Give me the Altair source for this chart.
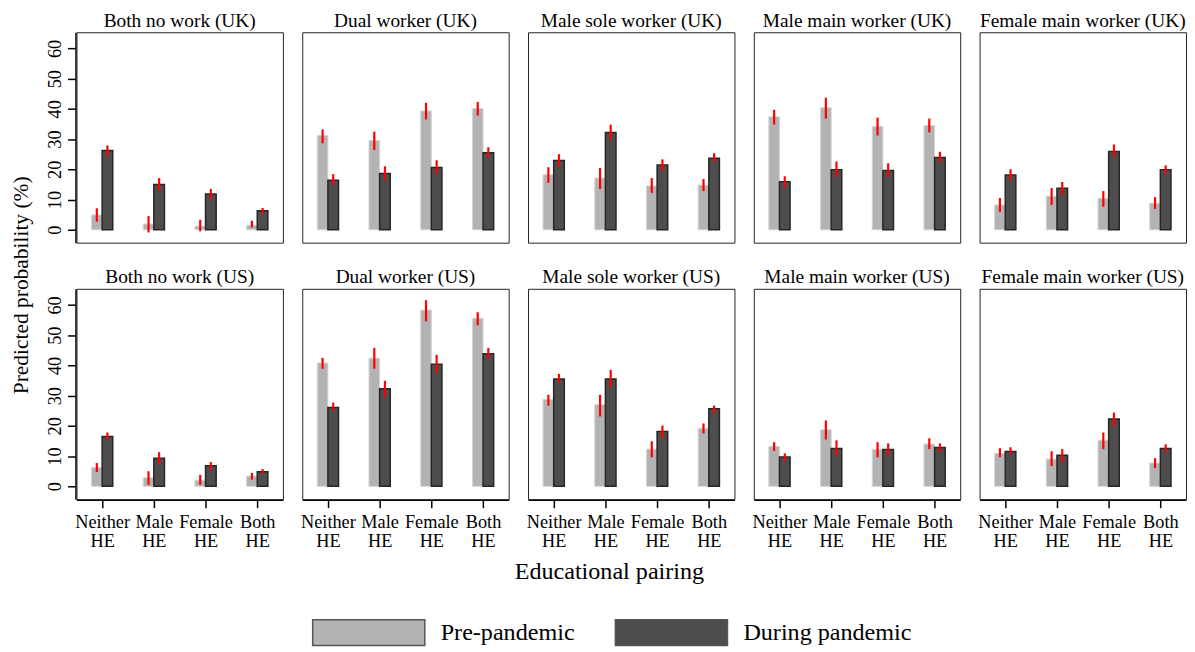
import json
import altair as alt
import pandas as pd

FONT = "Liberation Serif"

countries = ["UK", "US"]
types = ["Both no work", "Dual worker", "Male sole worker", "Male main worker", "Female main worker"]
edu = ["Neither HE", "Male HE", "Female HE", "Both HE"]
periods = ["Pre-pandemic", "During pandemic"]

# values per type (rows) and educational pairing (columns)
pre_uk = [[4.9, 1.9, 1.2, 1.5], [31.2, 29.5, 39.3, 40.1], [18.2, 17.1, 14.5, 14.8],
          [37.4, 40.4, 34.2, 34.5], [8.2, 11.1, 10.4, 8.8]]
pre_uk_lo = [[2.7, -0.9, -0.5, 0.8], [28.6, 26.4, 36.5, 37.8], [15.5, 13.5, 12.2, 12.8],
             [34.8, 36.8, 31.2, 32.2], [5.9, 8.2, 7.6, 6.9]]
pre_uk_hi = [[7.1, 4.5, 3.3, 3.0], [33.2, 32.5, 42.0, 42.3], [20.7, 20.4, 17.1, 16.8],
             [39.7, 43.7, 37.1, 36.8], [10.5, 13.8, 12.8, 10.8]]
dur_uk = [[26.2, 15.0, 11.8, 6.3], [16.4, 18.6, 20.6, 25.5], [22.9, 32.2, 21.4, 23.7],
          [15.9, 19.9, 19.6, 23.9], [18.1, 13.7, 25.9, 19.9]]
dur_uk_lo = [[24.4, 12.9, 10.2, 5.5], [14.8, 16.5, 18.5, 23.9], [21.1, 29.7, 19.4, 22.4],
             [13.9, 17.4, 17.4, 22.4], [16.4, 11.5, 24.0, 18.5]]
dur_uk_hi = [[27.9, 17.1, 13.5, 7.2], [18.4, 21.0, 23.0, 27.3], [25.0, 34.8, 23.3, 25.3],
             [17.7, 22.6, 22.0, 25.8], [20.0, 15.8, 28.2, 21.3]]

pre_us = [[6.2, 2.8, 2.0, 3.4], [40.8, 42.4, 58.3, 55.6], [28.7, 27.0, 12.3, 19.2],
          [13.2, 18.7, 12.3, 14.0], [10.9, 9.0, 15.2, 7.7]]
pre_us_lo = [[4.7, 0.5, 0.5, 2.2], [38.9, 38.9, 54.6, 53.3], [26.7, 23.1, 9.6, 17.5],
             [11.7, 15.5, 9.6, 12.3], [9.6, 6.7, 12.3, 6.0]]
pre_us_hi = [[7.7, 5.0, 3.8, 4.4], [42.5, 45.8, 61.6, 57.6], [30.3, 30.3, 14.9, 20.8],
             [14.6, 21.8, 14.6, 15.9], [12.6, 11.6, 17.8, 9.3]]
dur_us = [[16.5, 9.3, 6.8, 4.8], [26.1, 32.3, 40.4, 43.9], [35.5, 35.5, 18.1, 25.7],
          [9.7, 12.5, 12.2, 12.8], [11.5, 10.3, 22.3, 12.5]]
dur_us_lo = [[15.5, 7.3, 5.4, 4.1], [24.9, 29.5, 37.6, 42.2], [34.3, 32.7, 15.9, 24.2],
             [8.4, 10.0, 10.1, 11.3], [10.5, 8.0, 19.8, 11.3]]
dur_us_hi = [[17.8, 11.3, 8.0, 5.7], [27.7, 34.9, 43.5, 45.8], [37.2, 38.5, 20.1, 26.7],
             [10.9, 15.2, 14.2, 14.2], [12.9, 12.3, 24.4, 13.9]]

y_ticks = [0, 10, 20, 30, 40, 50, 60]
y_title = "Predicted probability (%)"
x_title = "Educational pairing"

series = {
    ("UK", "Pre-pandemic"): (pre_uk, pre_uk_lo, pre_uk_hi),
    ("UK", "During pandemic"): (dur_uk, dur_uk_lo, dur_uk_hi),
    ("US", "Pre-pandemic"): (pre_us, pre_us_lo, pre_us_hi),
    ("US", "During pandemic"): (dur_us, dur_us_lo, dur_us_hi),
}

panel_order = [f"{t} ({c})" for c in countries for t in types]
rows = []
for c in countries:
    for ti, t in enumerate(types):
        for p in periods:
            v, lo, hi = series[(c, p)]
            for ei, e in enumerate(edu):
                rows.append({"panel": f"{t} ({c})", "pos": ei + 1, "edu": e,
                             "period": p, "value": v[ti][ei],
                             "lo": lo[ti][ei], "hi": hi[ti][ei]})
df = pd.DataFrame(rows)

label_expr = "split(" + json.dumps(edu) + "[datum.value - 1], ' ')"

x_enc = alt.X("pos:Q",
              scale=alt.Scale(domain=[0.6, 4.4], nice=False, zero=False),
              axis=alt.Axis(title=None, values=[1, 2, 3, 4], labelExpr=label_expr,
                            grid=False, tickSize=8, tickColor="black", tickWidth=1.5,
                            domainColor="black", domainWidth=1.5,
                            labelFontSize=18.4, labelColor="black", labelPadding=5,
                            labelLineHeight=19, labelBaseline="top", labelFont=FONT,
                            labelOverlap=False))
y_scale = alt.Scale(domain=[-4.27, 65.35], nice=False, zero=False)
y_axis = alt.Axis(title=None, values=y_ticks, tickCount=7, grid=False, tickSize=8,
                  tickColor="black", tickWidth=1.5,
                  domainColor="black", domainWidth=1.5,
                  labelAngle=270, labelAlign="center", labelBaseline="bottom",
                  labelPadding=3, labelFontSize=18.4, labelColor="black",
                  labelFont=FONT, labelOverlap=False)
y_enc = alt.Y("value:Q", scale=y_scale, axis=y_axis)
y_lo = alt.Y("lo:Q", scale=y_scale, axis=y_axis)

color_enc = alt.Color("period:N",
                      scale=alt.Scale(domain=periods, range=["#b3b3b3", "#4d4d4d"]),
                      legend=alt.Legend(title=None, orient="none", legendX=306, legendY=591,
                                        direction="horizontal",
                                        symbolType="M-1,-1H7.69V1H-1Z",
                                        symbolSize=676, symbolStrokeWidth=1.5,
                                        symbolStrokeColor="#555555", symbolOpacity=1,
                                        labelFontSize=24.3, labelFont=FONT, labelColor="black",
                                        labelOffset=102, columnPadding=38, labelLimit=300))

half = 5.35
bw = 10.7
pre_bar = alt.Chart().mark_bar(width=bw, xOffset=-half, stroke="#d4d4d4", strokeWidth=1).encode(
    x=x_enc, y=y_enc, y2=alt.datum(0), color=color_enc
).transform_filter(alt.datum.period == periods[0])
dur_bar = alt.Chart().mark_bar(width=bw, xOffset=half, stroke="#262626", strokeWidth=1.5).encode(
    x=x_enc, y=y_enc, y2=alt.datum(0), color=color_enc
).transform_filter(alt.datum.period == periods[1])
pre_err = alt.Chart().mark_rule(color="red", strokeWidth=2.2, xOffset=-half).encode(
    x=x_enc, y=y_lo, y2="hi:Q"
).transform_filter(alt.datum.period == periods[0])
dur_err = alt.Chart().mark_rule(color="red", strokeWidth=2.2, xOffset=half).encode(
    x=x_enc, y=y_lo, y2="hi:Q"
).transform_filter(alt.datum.period == periods[1])

panels = alt.layer(pre_bar, dur_bar, pre_err, dur_err, data=df).properties(
    width=208, height=212
).facet(
    facet=alt.Facet("panel:N", sort=panel_order, title=None,
                    header=alt.Header(labelFontSize=19.5, labelFont=FONT, labelColor="black",
                                      labelPadding=1)),
    columns=5,
    spacing={"row": 23.5, "column": 17.5},
)

H = 500
ytitle = alt.Chart(pd.DataFrame({"t": [y_title]})).mark_text(
    angle=270, fontSize=21.6, font=FONT, color="black"
).encode(text="t:N", x=alt.value(14), y=alt.value(255)).properties(
    width=28, height=H, view=alt.ViewBackground(strokeWidth=0))

xtitle = alt.Chart(pd.DataFrame({"t": [x_title]})).mark_text(
    fontSize=24.3, font=FONT, color="black"
).encode(text="t:N", x=alt.value(606), y=alt.value(14)).properties(
    width=1170, height=28, view=alt.ViewBackground(strokeWidth=0))

chart = alt.vconcat(
    alt.hconcat(ytitle, panels, spacing=10),
    xtitle,
    spacing=8,
).properties(padding=0).configure(font=FONT).configure_view(stroke="#222222", strokeWidth=1)

chart.save("out.html", embed_options={"renderer": "svg", "actions": False})
